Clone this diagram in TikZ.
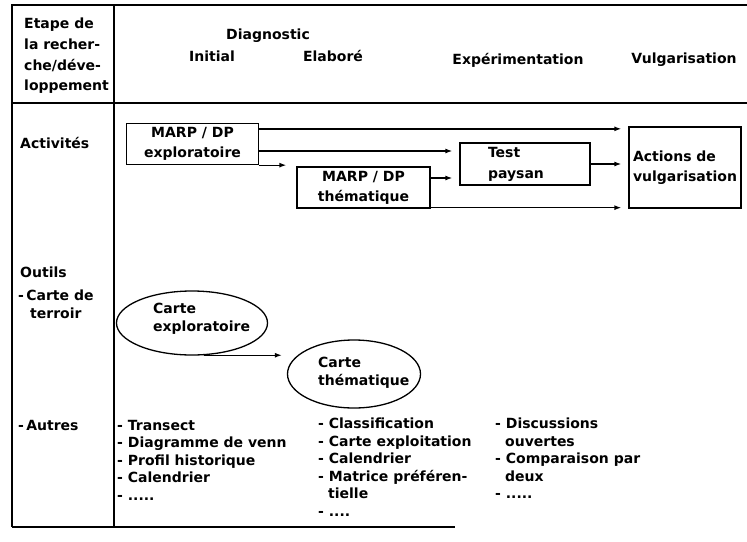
\documentclass[tikz,border=0pt]{standalone}
\usepackage{fontspec}
\setmainfont{DejaVu Sans}
\usetikzlibrary{arrows.meta,shapes.geometric}

\begin{document}
\begin{tikzpicture}[x=1pt, y=-1pt, >={Latex[length=7pt, width=5pt]},
  txt/.style={font=\bfseries\fontsize{14}{17.5}\selectfont, inner sep=0pt, align=left},
  stagebox/.style={draw, line width=1.3pt, inner sep=0pt, align=center,
    font=\bfseries\fontsize{14}{20}\selectfont},
  mapell/.style={draw, ellipse, line width=1.3pt, inner sep=0pt},
  flow/.style={->, line width=1.3pt, shorten >=7pt},
  rule/.style={line width=1.6pt}]
\useasboundingbox (0,0) rectangle (747,541);
% table frame
\draw[rule] (12,527) -- (12,5) -- (747,5);
\draw[rule] (114,5) -- (114,527);
\draw[rule] (12,103) -- (747,103);
\draw[rule] (12,527) -- (455,527);
% header row
\node[txt, anchor=north west, font=\bfseries\fontsize{14}{20.7}\selectfont] (etape) at (24,18)
  {Etape de\\la recher-\\che/déve-\\loppement};
\node[txt] (diag) at (268,36) {Diagnostic};
\node[txt] (init) at (212,56) {Initial};
\node[txt] (elab) at (333,56) {Elaboré};
\node[txt] (expe) at (518,60) {Expérimentation};
\node[txt] (vulg) at (684,60) {Vulgarisation};
% activites
\node[txt, anchor=west] (activ) at (20,143) {Activités};
\node[stagebox, minimum width=132, minimum height=41] (expl) at (192.5,144)
  {MARP / DP\\exploratoire};
\node[stagebox, minimum width=133, minimum height=41] (them) at (363.5,187.5)
  {MARP / DP\\thématique};
\node[stagebox, minimum width=130, minimum height=42, align=left, text width=74,
  font=\bfseries\fontsize{14}{21}\selectfont] (test) at (525,164) {Test\\paysan};
\node[stagebox, minimum width=112, minimum height=81, align=left,
  font=\bfseries\fontsize{14}{20}\selectfont] (act) at (685,167.5) {Actions de\\vulgarisation};
\coordinate (e1) at ([yshift=-6pt]expl.north east);   % towards actions
\coordinate (e2) at ([yshift=-7pt]expl.east);         % towards test
\coordinate (t1) at ([yshift=9.5pt]them.east);        % towards test
\draw[flow] (e1) -- (e1 -| act.west);
\draw[flow] (e2) -- (e2 -| test.west);
\draw[flow, shorten >=10pt] (expl.south east) -- (expl.south east -| them.west);
\draw[flow] (t1) -- (t1 -| test.west);
\draw[flow] ([yshift=1pt]them.south east) -- ([yshift=1pt]them.south east -| act.west);
\draw[flow] (test.east) -- (test.east -| act.west);
% outils
\node[txt, anchor=west] (outils) at (20,272) {Outils};
\node[txt, anchor=north west] (terroir) at (18,290) {-\,Carte de\\\hspace*{12pt}terroir};
\node[mapell, minimum width=151, minimum height=64] (cexp) at (192,323) {};
\node[txt, anchor=west] (cexptxt) at (153,319) {Carte\\exploratoire};
\node[mapell, minimum width=133, minimum height=68] (cthem) at (354,374) {};
\node[txt, anchor=west] (cthemtxt) at (318,373) {Carte\\thématique};
\draw[flow, shorten >=5pt] (cexp.-70) -- (cexp.-70 -| cthem.west);
% autres
\node[txt, anchor=west] (autres) at (18,425) {-\,Autres};
\node[txt, anchor=north west] (listinit) at (117,420)
  {- Transect\\- Diagramme de venn\\- Profil historique\\- Calendrier\\- .....};
\node[txt, anchor=north west] (listelab) at (318,418)
  {- Classification\\- Carte exploitation\\- Calendrier\\- Matrice préféren-\\\hspace*{10pt}tielle\\- ....};
\node[txt, anchor=north west] (listexpe) at (495,418)
  {- Discussions\\\hspace*{10pt}ouvertes\\- Comparaison par\\\hspace*{10pt}deux\\- .....};
\end{tikzpicture}
\end{document}
